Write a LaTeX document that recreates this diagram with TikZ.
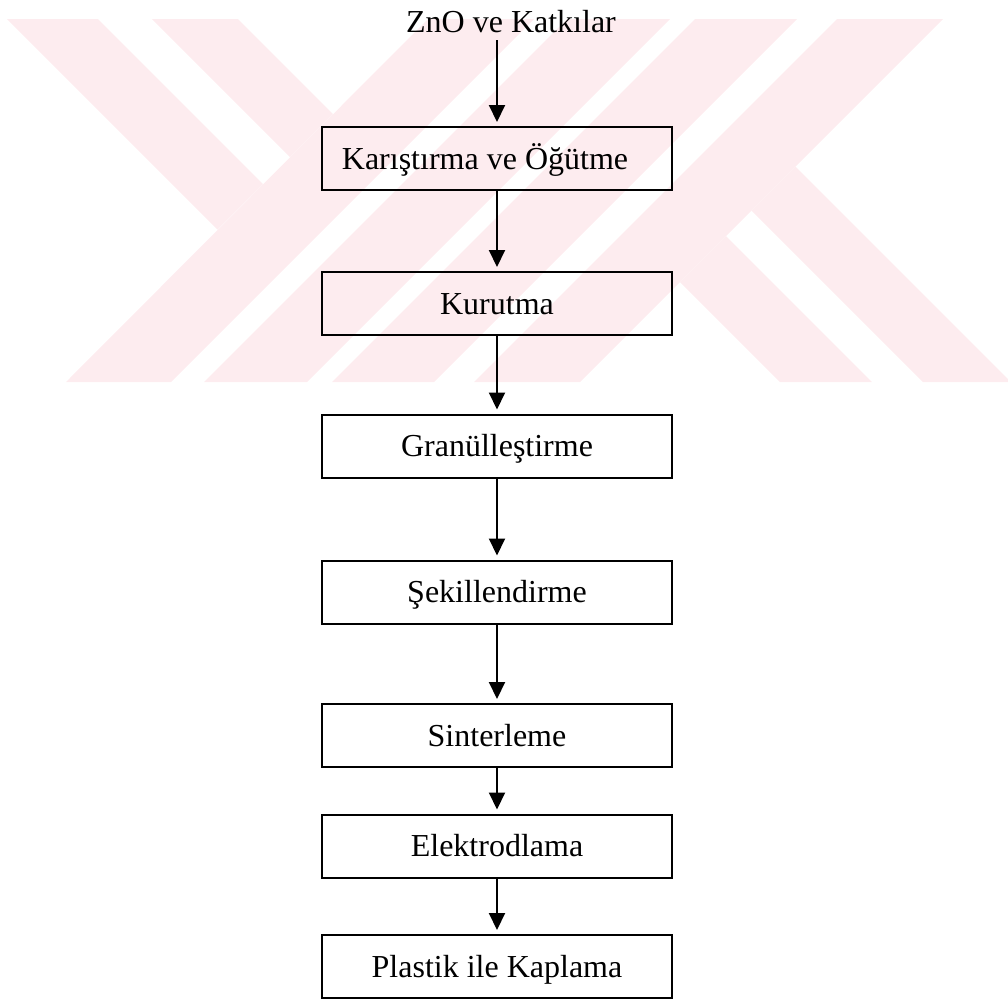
\documentclass[tikz,border=0pt]{standalone}
\usepackage{fontspec}
\setmainfont{Liberation Serif}
\usetikzlibrary{arrows.meta}
\definecolor{markpink}{RGB}{253,236,239}

\begin{document}
\begin{tikzpicture}[x=0.5pt, y=-0.5pt, every node/.style={font=\fontsize{16}{19}\selectfont}, >={Triangle[length=8.5pt, width=8pt]},
	stepbox/.style={draw, line width=1pt, minimum width=175pt, minimum height=31.5pt, inner sep=0pt, text height=10.6pt, text depth=0pt},
	flow/.style={->, line width=1pt, shorten >=2pt}]
	\useasboundingbox (0,0) rectangle (1008,998);
	\fill[markpink] (7,19) -- (98,19) -- (263,184) -- (217.5,229.5) -- cycle;
	\fill[markpink] (152,19) -- (238,19) -- (333,114) -- (290,157) -- cycle;
	\fill[markpink] (428,19) -- (534,19) -- (171,382) -- (66,382) -- cycle;
	\fill[markpink] (567,19) -- (670,19) -- (307,382) -- (204,382) -- cycle;
	\fill[markpink] (695,19) -- (797,19) -- (434,382) -- (332,382) -- cycle;
	\fill[markpink] (837,19) -- (943,19) -- (580,382) -- (474,382) -- cycle;
	\fill[markpink] (680,282) -- (726,236) -- (872,382) -- (780,382) -- cycle;
	\fill[markpink] (751.5,210.5) -- (795.5,166.5) -- (1011,382) -- (923,382) -- cycle;
	\node[inner sep=0pt, text height=10.6pt, text depth=0pt] (zno) at (511,22) {ZnO ve Katkılar};
	\node[stepbox] (mix) at (497,158.5) {Karıştırma ve Öğütme\kern12pt};
	\node[stepbox] (dry) at (497,303.5) {Kurutma};
	\node[stepbox] (gran) at (497,446) {Granülleştirme};
	\node[stepbox] (shape) at (497,592) {Şekillendirme};
	\node[stepbox] (sinter) at (497,735.5) {Sinterleme};
	\node[stepbox] (electrode) at (497,846) {Elektrodlama};
	\node[stepbox] (coat) at (497,966.5) {Plastik ile Kaplama};
	\draw[flow, shorten <=3.5pt] (zno.south -| mix.north) -- (mix);
	\draw[flow] (mix) -- (dry);
	\draw[flow] (dry) -- (gran);
	\draw[flow] (gran) -- (shape);
	\draw[flow] (shape) -- (sinter);
	\draw[flow] (sinter) -- (electrode);
	\draw[flow] (electrode) -- (coat);
\end{tikzpicture}
\end{document}
